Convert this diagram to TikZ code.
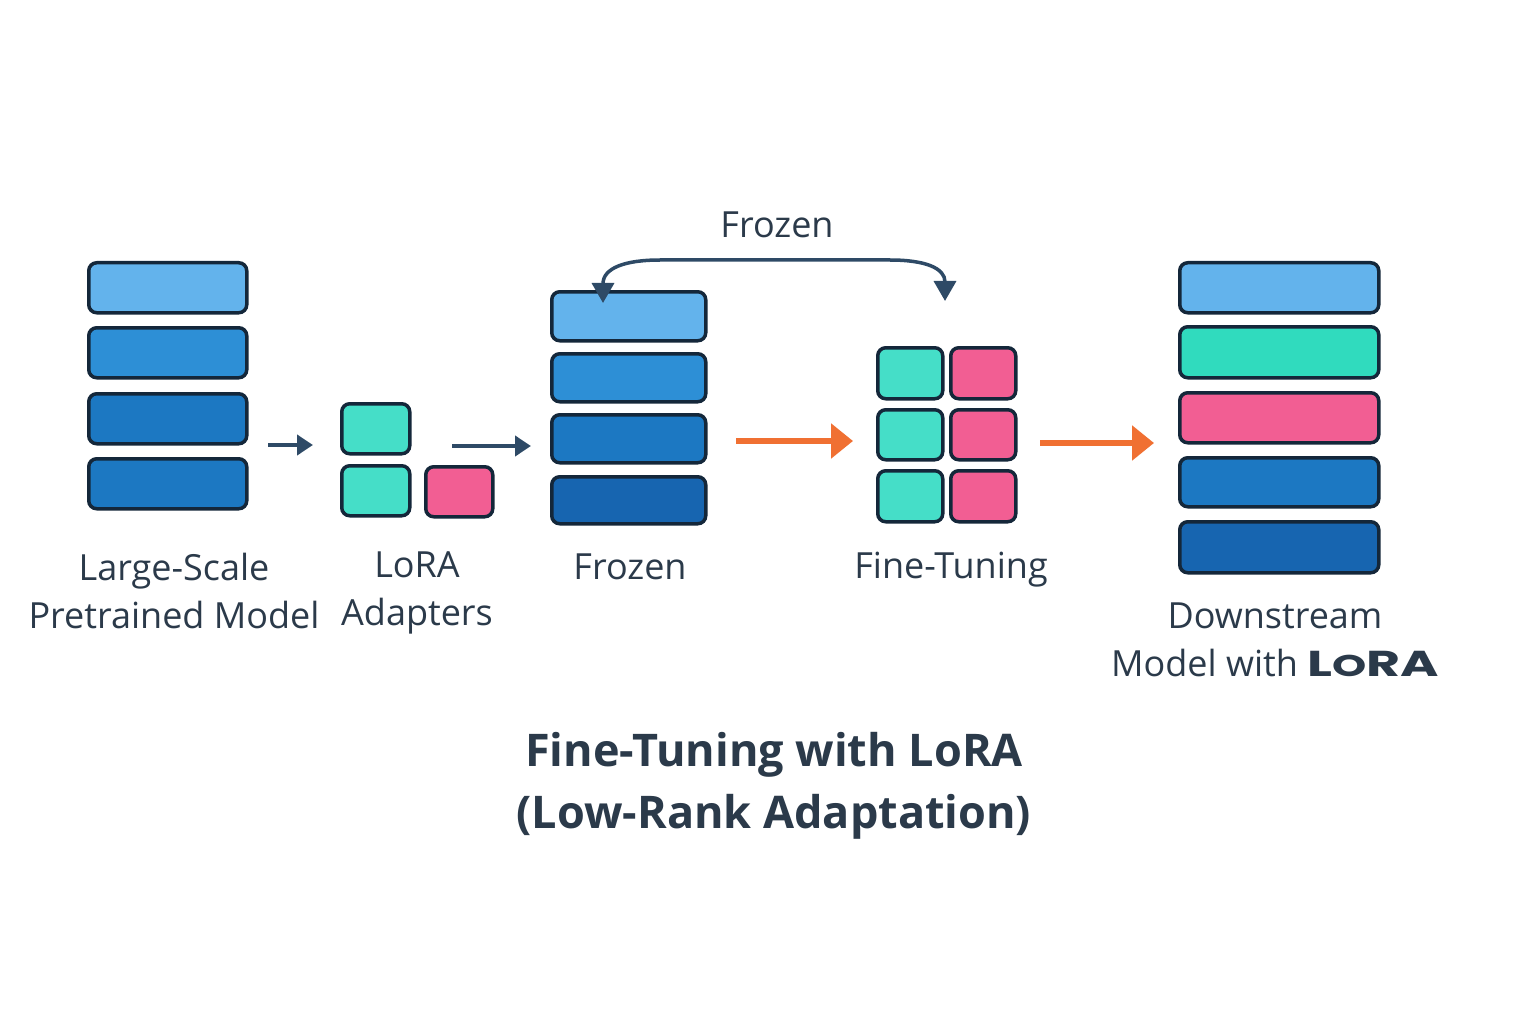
\documentclass[tikz,border=0pt]{standalone}
\usepackage{fontspec}
\setmainfont{Open Sans}
\newfontfamily\widefont{Poppins}
\usetikzlibrary{arrows.meta}
\definecolor{lbA}{HTML}{63B3EC}
\definecolor{lbB}{HTML}{2D8FD6}
\definecolor{lbC}{HTML}{1C78C2}
\definecolor{lbD}{HTML}{1765B0}
\definecolor{tealA}{HTML}{45DEC8}
\definecolor{tealB}{HTML}{30DBBE}
\definecolor{pinkA}{HTML}{F25E93}
\definecolor{edgec}{HTML}{14273A}
\definecolor{darkarr}{HTML}{2E4A66}
\definecolor{orangec}{HTML}{F07032}
\definecolor{txt}{HTML}{2B3A4A}
\tikzset{
  blk/.style={draw=edgec, line width=3.5pt, rounded corners=8pt, inner sep=0pt, anchor=north west},
  lbl/.style={text=txt, font=\fontsize{36}{48}\selectfont, align=center, inner sep=0pt},
  darrow/.style={draw=darkarr, line width=4pt, -{Triangle[length=16pt,width=20pt]}},
  oarrow/.style={draw=orangec, line width=6pt, -{Triangle[length=22pt,width=34pt]}},
}
\begin{document}
\begin{tikzpicture}[x=1pt,y=-1pt]
\useasboundingbox (0,0) rectangle (1536,1024);
\fill[white] (0,0) rectangle (1536,1024);
% left stack
\node[blk, fill=lbA, minimum width=158pt, minimum height=50pt] (l1) at (87,261) {};
\node[blk, fill=lbB, minimum width=158pt, minimum height=50pt] (l2) at (87,326) {};
\node[blk, fill=lbC, minimum width=158pt, minimum height=50pt] (l3) at (87,392) {};
\node[blk, fill=lbC, minimum width=158pt, minimum height=50pt] (l4) at (87,457) {};
% adapters
\node[blk, fill=tealA, minimum width=68pt, minimum height=50pt] (a1) at (340,402) {};
\node[blk, fill=tealA, minimum width=68pt, minimum height=50pt] (a2) at (340,464) {};
\node[blk, fill=pinkA, minimum width=67pt, minimum height=50pt] (a3) at (424,465) {};
% frozen stack
\node[blk, fill=lbA, minimum width=154pt, minimum height=49pt] (f1) at (550,290) {};
\node[blk, fill=lbB, minimum width=154pt, minimum height=48pt] (f2) at (550,352) {};
\node[blk, fill=lbC, minimum width=154pt, minimum height=48pt] (f3) at (550,413) {};
\node[blk, fill=lbD, minimum width=154pt, minimum height=47pt] (f4) at (550,475) {};
% fine-tuning grid
\node[blk, fill=tealA, minimum width=65pt, minimum height=51pt] (g1) at (876,346) {};
\node[blk, fill=pinkA, minimum width=65pt, minimum height=51pt] (g2) at (949,346) {};
\node[blk, fill=tealA, minimum width=65pt, minimum height=50pt] (g3) at (876,408) {};
\node[blk, fill=pinkA, minimum width=65pt, minimum height=50pt] (g4) at (949,408) {};
\node[blk, fill=tealA, minimum width=65pt, minimum height=51pt] (g5) at (876,469) {};
\node[blk, fill=pinkA, minimum width=65pt, minimum height=51pt] (g6) at (949,469) {};
% downstream stack
\node[blk, fill=lbA, minimum width=199pt, minimum height=50pt] (d1) at (1178,261) {};
\node[blk, fill=tealB, minimum width=199pt, minimum height=51pt] (d2) at (1178,325) {};
\node[blk, fill=pinkA, minimum width=199pt, minimum height=50pt] (d3) at (1178,391) {};
\node[blk, fill=lbC, minimum width=199pt, minimum height=49pt] (d4) at (1178,456) {};
\node[blk, fill=lbD, minimum width=199pt, minimum height=51pt] (d5) at (1178,520) {};
% arrow coordinates
\coordinate (s1) at (268,445); \coordinate (e1) at (313,445);
\coordinate (s2) at (452,446); \coordinate (e2) at (531,446);
\coordinate (s3) at (736,441); \coordinate (e3) at (853,441);
\coordinate (s4) at (1040,443); \coordinate (e4) at (1154,443);
\coordinate (cL) at (603,303); \coordinate (cR) at (945,301);
\draw[darrow] (s1) -- (e1);
\draw[darrow] (s2) -- (e2);
\draw[oarrow] (s3) -- (e3);
\draw[oarrow] (s4) -- (e4);
\draw[draw=darkarr, line width=3.5pt, {Triangle[length=20pt,width=22pt]}-{Triangle[length=20pt,width=22pt]}]
  (cL) .. controls (603,268) and (625,260) .. (660,260) -- (890,260) .. controls (925,260) and (945,268) .. (cR);
% labels
\node[lbl] (tfz) at (777,225) {Frozen};
\node[lbl] (t1) at (174,591) {Large-Scale\\Pretrained Model};
\node[lbl] (t2) at (417,593) {LoRA\\Adapters};
\node[lbl] (t3) at (630,567) {Frozen};
\node[lbl] (t4) at (951,570) {Fine-Tuning};
\node[lbl] (t5) at (1275,640) {Downstream\\Model with {\widefont\bfseries\scalebox{1.45}[1]{L\fontsize{30}{30}\selectfont O\fontsize{36}{36}\selectfont RA}}};
\node[text=txt, font=\fontsize{45}{62}\selectfont\bfseries, align=center, inner sep=0pt] (title) at (774,786) {Fine-Tuning with LoRA\\(Low-Rank Adaptation)};
\end{tikzpicture}
\end{document}
